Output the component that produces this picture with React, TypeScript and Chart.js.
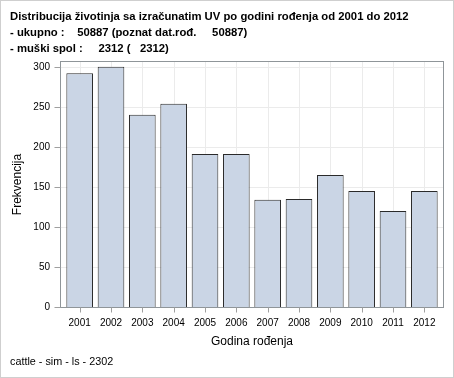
import React, { useEffect, useRef } from "react";
import { Chart, registerables } from "chart.js";

Chart.register(...registerables);

const categories = ["2001", "2002", "2003", "2004", "2005", "2006", "2007", "2008", "2009", "2010", "2011", "2012"];
const frequencies = [292, 300, 240, 254, 191, 191, 134, 135, 165, 145, 120, 145];
const yTicks = [0, 50, 100, 150, 200, 250, 300];
const titleLines = [
  "Distribucija životinja sa izračunatim UV po godini rođenja od 2001 do 2012",
  "- ukupno :    50887 (poznat dat.rođ.     50887)",
  "- muški spol :     2312 (   2312)",
];
const footnote = "cattle - sim - ls - 2302";
const xTitle = "Godina rođenja";
const yTitle = "Frekvencija";

const FONT = "Arial, 'Liberation Sans', sans-serif";

const framePlugin = {
  id: "sasFrame",
  beforeDraw(chart: any) {
    const { ctx, width, height } = chart;
    ctx.save();
    ctx.fillStyle = "#ffffff";
    ctx.fillRect(0, 0, width, height);
    ctx.strokeStyle = "#cfcfcf";
    ctx.lineWidth = 1;
    ctx.strokeRect(0.5, 0.5, width - 1, height - 1);
    ctx.restore();
  },
  beforeDatasetsDraw(chart: any) {
    const { ctx, chartArea, scales } = chart;
    const fl = chartArea.left - 3.5;
    const fr = chartArea.right + 3.5;
    const ft = chartArea.top - 0.5;
    const fb = chartArea.bottom + 0.5;
    ctx.save();
    ctx.strokeStyle = "#ebebeb";
    ctx.lineWidth = 1;
    ctx.beginPath();
    yTicks.forEach((v) => {
      const y = Math.round(scales.y.getPixelForValue(v)) + 0.5;
      ctx.moveTo(fl, y);
      ctx.lineTo(fr, y);
    });
    categories.forEach((c, i) => {
      const x = Math.round(scales.x.getPixelForValue(i)) + 0.5;
      ctx.moveTo(x, ft);
      ctx.lineTo(x, fb);
    });
    ctx.stroke();
    ctx.restore();
  },
  afterDatasetsDraw(chart: any) {
    const { ctx, chartArea, scales } = chart;
    const fl = chartArea.left - 3.5;
    const fr = chartArea.right + 3.5;
    const ft = chartArea.top - 0.5;
    const fb = chartArea.bottom + 0.5;
    ctx.save();
    ctx.strokeStyle = "#8f9599";
    ctx.lineWidth = 1;
    ctx.strokeRect(fl, ft, fr - fl, fb - ft);
    ctx.strokeStyle = "#a0a0a0";
    ctx.beginPath();
    yTicks.forEach((v) => {
      const y = Math.round(scales.y.getPixelForValue(v)) + 0.5;
      ctx.moveTo(fl - 6, y);
      ctx.lineTo(fl, y);
    });
    categories.forEach((c, i) => {
      const x = Math.round(scales.x.getPixelForValue(i)) + 0.5;
      ctx.moveTo(x, fb);
      ctx.lineTo(x, fb + 5);
    });
    ctx.stroke();
    ctx.restore();
  },
};

export default function App() {
  const ref = useRef<HTMLCanvasElement | null>(null);

  useEffect(() => {
    if (!ref.current) return;
    const chart = new Chart(ref.current, {
      type: "bar",
      data: {
        labels: categories,
        datasets: [
          {
            data: frequencies,
            backgroundColor: "#cad5e5",
            borderColor: "#2a2a2a",
            borderWidth: 1,
            barPercentage: 0.85,
            categoryPercentage: 1,
          },
        ],
      },
      options: {
        responsive: false,
        animation: false,
        devicePixelRatio: 1,
        layout: { padding: { left: 10, right: 14, top: 0, bottom: 0 } },
        plugins: {
          legend: { display: false },
          tooltip: { enabled: false },
          title: {
            display: true,
            text: titleLines,
            align: "start",
            color: "#000",
            font: { family: FONT, size: 11.3, weight: "bold", lineHeight: "16px" },
            padding: { top: 9, bottom: 5 },
          },
          subtitle: {
            display: true,
            text: footnote,
            position: "bottom",
            align: "start",
            color: "#000",
            font: { family: FONT, size: 10.8, weight: "normal", lineHeight: "12px" },
            padding: { top: 0, bottom: 10 },
          },
        },
        scales: {
          x: {
            grid: { display: false, drawTicks: false },
            border: { display: false },
            ticks: {
              color: "#000",
              font: { family: FONT, size: 10 },
              padding: 10,
              autoSkip: false,
              maxRotation: 0,
            },
            title: {
              display: true,
              text: xTitle,
              color: "#000",
              font: { family: FONT, size: 12 },
              padding: { top: 0, bottom: 7 },
            },
            afterFit(scale: any) {
              scale.height = 49;
            },
          },
          y: {
            min: 0,
            max: 306,
            grid: { display: false, drawTicks: false },
            border: { display: false },
            afterBuildTicks(scale: any) {
              scale.ticks = yTicks.map((v) => ({ value: v }));
            },
            ticks: {
              color: "#000",
              font: { family: FONT, size: 10 },
              padding: 14,
            },
            title: {
              display: true,
              text: yTitle,
              color: "#000",
              font: { family: FONT, size: 12 },
              padding: { top: 0, bottom: 0 },
            },
            afterFit(scale: any) {
              scale.width = 54;
            },
          },
        },
      },
      plugins: [framePlugin],
    });
    return () => chart.destroy();
  }, []);

  return (
    <div style={{ position: "absolute", left: 0, top: 0 }}>
      <canvas ref={ref} width={454} height={378} style={{ display: "block" }} />
    </div>
  );
}
